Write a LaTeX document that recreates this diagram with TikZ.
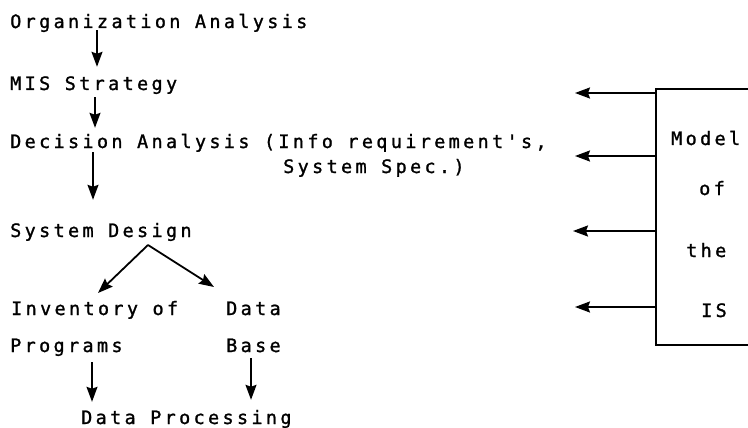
\documentclass[tikz,border=0pt]{standalone}
\usepackage{fontspec}
\setmonofont[LetterSpace=18,FakeBold=1.2]{DejaVu Sans Mono}
\usetikzlibrary{arrows.meta,calc}

\begin{document}
\begin{tikzpicture}[x=1pt,y=-1pt,
  lbl/.style={font=\ttfamily\fontsize{18.5}{20}\selectfont, anchor=base west,
    inner sep=0pt, text height=13pt, text depth=4pt},
  arr/.style={line width=1.8pt, -{Stealth[length=15pt,width=11pt,inset=2pt]}},
  frame/.style={draw, line width=1.5pt, inner sep=0pt}]
\clip (0,0) rectangle (748,428);
\fill[white] (0,0) rectangle (748,428);

% left column: the chain of steps
\node[lbl] (oa)  at (10,28)  {Organization Analysis};
\node[lbl] (mis) at (10,90)  {MIS Strategy};
\node[lbl] (da)  at (10,148) {Decision Analysis (Info requirement's,};
\node[lbl] (ds)  at (283,173) {System Spec.)};
\node[lbl] (sd)  at (10,237) {System Design};
\node[lbl] (inv) at (11,315) {Inventory of};
\node[lbl] (prg) at (10,352) {Programs};
\node[lbl] (dat) at (226,315) {Data};
\node[lbl] (dbs) at (226,352) {Base};
\node[lbl] (dp)  at (81,424) {Data Processing};

\draw[arr, shorten <=-2pt, shorten >=10pt] (oa.south -| 97,0) -- (mis.north -| 97,0);
\draw[arr, shorten <=3pt, shorten >=7pt] (mis.south -| 95,0) -- (da.north -| 95,0);
\draw[arr, shorten >=24pt] (da.south -| 93,0) -- (sd.north -| 93,0);

\coordinate (split) at (148,245);
\coordinate (tipL) at (98,293);
\coordinate (tipR) at (214,287);
\draw[arr] (split) -- (tipL);
\draw[arr] (split) -- (tipR);

\draw[arr, shorten <=6pt, shorten >=9pt] (prg.south -| 92,0) -- (dp.north -| 92,0);
\draw[arr, shorten <=2pt, shorten >=11pt] (dbs.south -| 251,0) -- (dp.north -| 251,0);

% right: the model box feeding the steps
\node[frame, minimum width=184pt, minimum height=256pt] (model) at (748,217) {};
\node[lbl] (m1) at (671,145) {Model};
\node[lbl] (m2) at (699,195) {of};
\node[lbl] (m3) at (686,257) {the};
\node[lbl] (m4) at (701,317) {IS};

\coordinate (l1) at (575,93);
\coordinate (l2) at (575,156);
\coordinate (l3) at (573,231);
\coordinate (l4) at (575,307);
\foreach \c in {l1,l2,l3,l4}
  \draw[arr] (model.west |- \c) -- (\c);
\end{tikzpicture}
\end{document}
